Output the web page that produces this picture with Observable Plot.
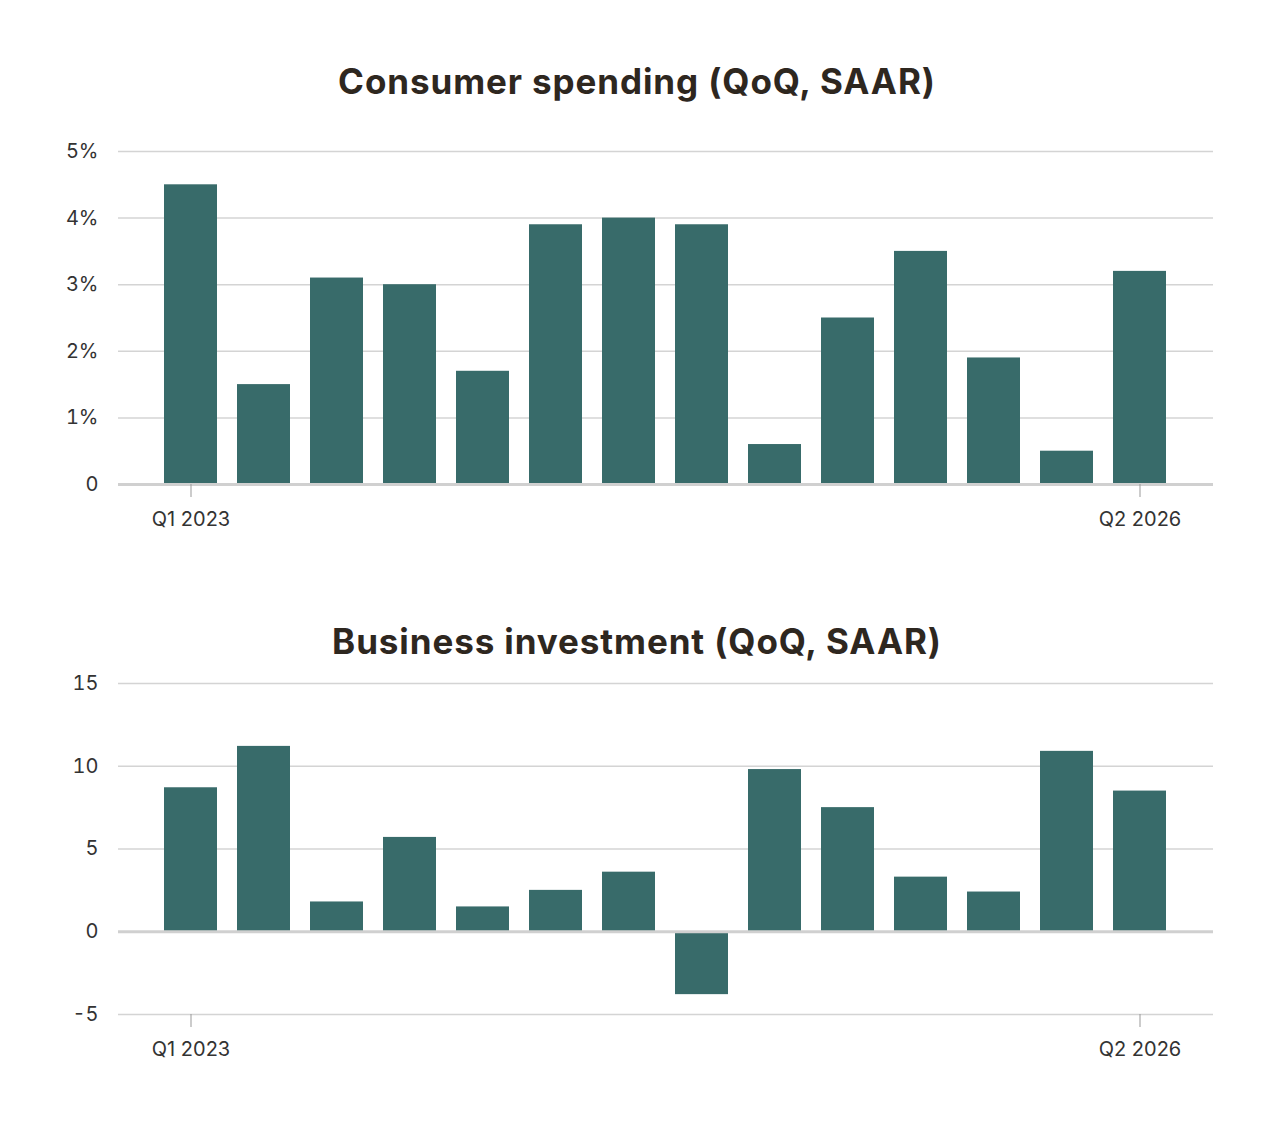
<!DOCTYPE html>
<html><head><meta charset="utf-8">
<script src="https://cdn.jsdelivr.net/npm/d3@7"></script>
<script src="https://cdn.jsdelivr.net/npm/@observablehq/plot@0.6"></script>
<style>
body{margin:0;background:#fff;font-family:Inter,"Open Sans",sans-serif;}
h2{margin:0;text-align:center;font-size:35px;font-weight:700;color:#2e271f;letter-spacing:0.9px;}
#t1{padding-top:60px;height:70px;}
#t2{padding-top:0;height:45px;margin-top:70px}
</style></head><body>
<h2 id="t1">Consumer spending (QoQ, SAAR)</h2>
<div id="c1"></div>
<h2 id="t2">Business investment (QoQ, SAAR)</h2>
<div id="c2"></div>
<script>
const quarters = ["Q1 2023","Q2 2023","Q3 2023","Q4 2023","Q1 2024","Q2 2024","Q3 2024","Q4 2024","Q1 2025","Q2 2025","Q3 2025","Q4 2025","Q1 2026","Q2 2026"];
const consumer = [4.5,1.5,3.1,3.0,1.7,3.9,4.0,3.9,0.6,2.5,3.5,1.9,0.5,3.2];
const business = [8.7,11.2,1.8,5.7,1.5,2.5,3.6,-3.8,9.8,7.5,3.3,2.4,10.9,8.5];
const shownTicks = ["Q1 2023","Q2 2026"];

function chart(values, yDomain, yTicks, fmt, height, marginTop){
  const data = quarters.map((q,i)=>({q, v: values[i]}));
  return Plot.plot({
    width:1274, height, marginLeft:118, marginRight:61, marginTop, marginBottom:66,
    style:{fontSize:"20px", fontFamily:"Inter, 'Open Sans', sans-serif", color:"#333"},
    x:{domain:quarters, paddingInner:0.27, paddingOuter:0.56, label:null, axis:null},
    y:{domain:yDomain, ticks:yTicks, label:null, axis:null},
    marks:[
      Plot.gridY(yTicks,{stroke:"#d4d4d4", strokeOpacity:1, strokeWidth:1.5}),
      Plot.axisY(yTicks,{tickSize:0, tickPadding:20, tickFormat:fmt, fill:"#333", fontSize:20}),
      Plot.barY(data,{x:"q", y:"v", fill:"#386b6a"}),
      Plot.ruleY([0],{stroke:"#d0d0d0", strokeWidth:3}),
      Plot.axisX(shownTicks,{tickSize:13, stroke:"#999", tickPadding:14, fill:"#333", fontSize:20})
    ]
  });
}
document.getElementById("c1").append(chart(consumer,[0,5],[0,1,2,3,4,5],d=>d===0?"0":d+"%",420,21));
document.getElementById("c2").append(chart(business,[-5,15],[-5,0,5,10,15],d=>d<0?"-"+Math.abs(d):String(d),415,18));
</script>
</body></html>
